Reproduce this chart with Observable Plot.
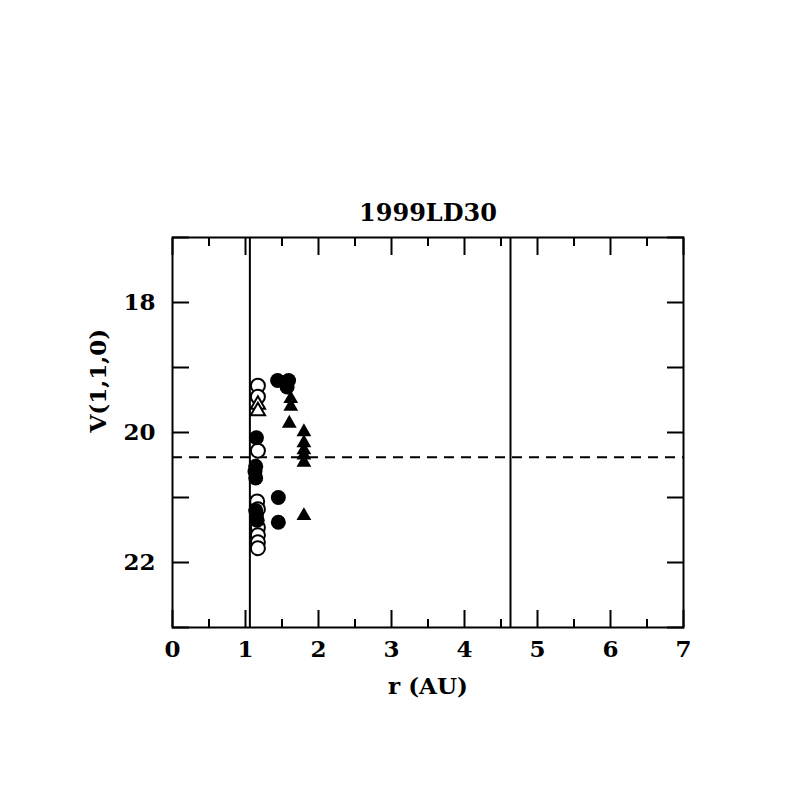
<!DOCTYPE html>
<html><head><meta charset="utf-8">
<script src="https://cdn.jsdelivr.net/npm/d3@7"></script>
<script src="https://cdn.jsdelivr.net/npm/@observablehq/plot@0.6"></script>
<style>body{margin:0;background:#fff}</style>
</head><body><div id="chart"></div>
<script>
const title = "1999LD30";
const xLabel = "r (AU)";
const yLabel = "V(1,1,0)";
const xTicks = [0, 1, 2, 3, 4, 5, 6, 7];
const xMinorTicks = [0.5, 1.5, 2.5, 3.5, 4.5, 5.5, 6.5];
const yTicks = [17, 18, 19, 20, 21, 22, 23];
const yTickLabels = [18, 20, 22];
const verticalLines = [1.06, 4.63];
const dashedLevel = [20.38];

const openCircleR = [1.17, 1.17, 1.17, 1.16, 1.17, 1.17, 1.17, 1.17, 1.17];
const openCircleV = [19.28, 19.45, 20.28, 21.06, 21.18, 21.46, 21.58, 21.69, 21.78];
const openTriR = [1.17, 1.17];
const openTriV = [19.57, 19.67];
const filledCircleR = [1.15, 1.14, 1.13, 1.14, 1.14, 1.15, 1.16, 1.44, 1.59, 1.57, 1.45, 1.45];
const filledCircleV = [20.08, 20.52, 20.6, 20.7, 21.2, 21.27, 21.35, 19.2, 19.2, 19.3, 21.0, 21.38];
const filledTriR = [1.62, 1.62, 1.6, 1.8, 1.8, 1.8, 1.8, 1.8, 1.8];
const filledTriV = [19.48, 19.6, 19.86, 19.99, 20.16, 20.27, 20.35, 20.46, 21.28];

const zip = (a, b) => a.map((r, i) => ({r, v: b[i]}));
const font = "DejaVu Serif, serif";

const chart = Plot.plot({
  width: 797, height: 797,
  marginLeft: 172, marginRight: 114, marginTop: 237, marginBottom: 170,
  style: {fontFamily: font, fontWeight: "bold", background: "white", color: "black"},
  x: {domain: [0, 7], label: null},
  y: {domain: [17, 23], reverse: true, label: null},
  marks: [
    Plot.ruleX(verticalLines, {stroke: "black", strokeWidth: 2}),
    Plot.ruleY(dashedLevel, {stroke: "black", strokeWidth: 2, strokeDasharray: "10,7"}),
    Plot.axisX({anchor: "bottom", ticks: xTicks, tickSize: -17, tickFormat: () => "", strokeWidth: 2}),
    Plot.axisX({anchor: "bottom", ticks: xMinorTicks, tickSize: -8, tickFormat: () => "", strokeWidth: 2}),
    Plot.axisX({anchor: "top", ticks: xTicks, tickSize: -17, tickFormat: () => "", strokeWidth: 2}),
    Plot.axisX({anchor: "top", ticks: xMinorTicks, tickSize: -8, tickFormat: () => "", strokeWidth: 2}),
    Plot.axisY({anchor: "left", ticks: yTicks, tickSize: -17, tickFormat: () => "", strokeWidth: 2}),
    Plot.axisY({anchor: "right", ticks: yTicks, tickSize: -17, tickFormat: () => "", strokeWidth: 2}),
    Plot.axisX({anchor: "bottom", ticks: xTicks, tickSize: 0, tickPadding: 13, fontSize: 23, tickFormat: d => d}),
    Plot.axisY({anchor: "left", ticks: yTickLabels, tickSize: 0, tickPadding: 17, fontSize: 23, tickFormat: d => d}),
    Plot.frame({stroke: "black", strokeWidth: 2}),
    Plot.dot(zip(openCircleR, openCircleV), {x: "r", y: "v", r: 7, symbol: "circle", stroke: "black", strokeWidth: 2, fill: "white"}),
    Plot.dot(zip(openTriR, openTriV), {x: "r", y: "v", r: 5.3, symbol: "triangle", stroke: "black", strokeWidth: 2, fill: "white"}),
    Plot.dot(zip(filledCircleR, filledCircleV), {x: "r", y: "v", r: 7.5, symbol: "circle", fill: "black", stroke: "none"}),
    Plot.dot(zip(filledTriR, filledTriV), {x: "r", y: "v", r: 5.5, symbol: "triangle", fill: "black", stroke: "none"}),
    Plot.text([title], {frameAnchor: "top", dy: -34, fontSize: 24, fill: "black"}),
    Plot.text([xLabel], {frameAnchor: "bottom", dy: 66, fontSize: 23, fill: "black"}),
    Plot.text([yLabel], {frameAnchor: "left", dx: -74, rotate: -90, fontSize: 23, fill: "black"})
  ]
});
document.getElementById("chart").appendChild(chart);
</script></body></html>
